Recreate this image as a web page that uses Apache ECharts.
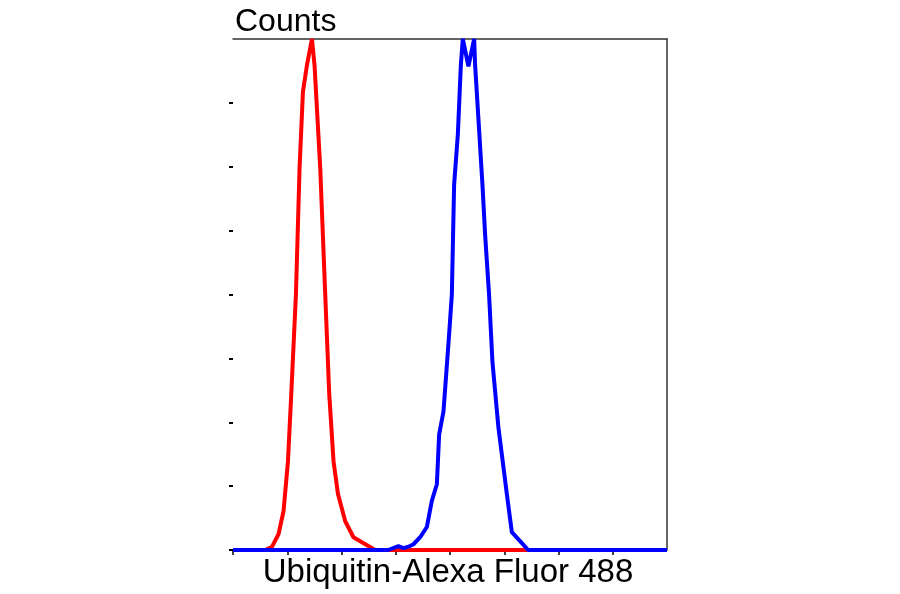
<!DOCTYPE html>
<html>
<head>
<meta charset="utf-8">
<script src="https://cdn.jsdelivr.net/npm/echarts@6/dist/echarts.min.js"></script>
<style>html,body{margin:0;padding:0;background:#fff}#c{width:900px;height:594px}</style>
</head>
<body>
<div id="c"></div>
<script>
// Fluorescence channel (x) and event counts (y)
var redX = [0, 59.5, 71.8, 84, 93.2, 101.3, 107.4, 116, 122.7, 128.9, 136.3, 145.5, 150.3, 160.8, 170, 177.4, 185.3, 193.4, 206.9, 222, 237.6, 262, 800];
var redY = [0, 0, 5, 25, 61, 139, 244, 400, 598, 717, 759, 800, 759, 598, 400, 244, 139, 88, 45, 20, 12, 0, 0];
var blueX = [0, 286, 305, 313.7, 323.5, 332.7, 345, 357.3, 366.5, 375.8, 380, 388, 398.4, 403.4, 407.6, 414.4, 420, 423.6, 434, 444.5, 446.3, 454.2, 459.8, 464.7, 472, 478.2, 489.2, 504.7, 514, 529.2, 544, 800];
var blueY = [0, 0, 6, 3, 5, 9, 20, 36, 77, 103, 181, 217, 338, 400, 572, 650, 759, 800, 757, 800, 759, 650, 572, 494, 400, 295, 192, 88, 28, 14, 0, 0];
var xTicks = [0, 100, 200, 300, 400, 500, 600, 700];
var yTicks = [0, 100, 200, 300, 400, 500, 600, 700];
var xTitle = 'Ubiquitin-Alexa Fluor 488';
var yTitle = 'Counts';

function pairs(xs, ys) { return xs.map(function (x, i) { return [x, ys[i]]; }); }

var chart = echarts.init(document.getElementById('c'), null, { renderer: 'canvas' });
var font = 'Liberation Sans, Arial, sans-serif';
chart.setOption({
  animation: false,
  backgroundColor: '#ffffff',
  grid: { left: 233, right: 233, top: 39, bottom: 43, containLabel: false },
  xAxis: [{
    type: 'value', min: 0, max: 800, interval: 100, position: 'bottom',
    name: xTitle, nameLocation: 'middle', nameGap: 6,
    nameTextStyle: { fontSize: 33, color: '#000', fontFamily: font, padding: [0, 4, 0, 0] },
    axisLine: { show: true, lineStyle: { color: '#000', width: 1 } },
    axisTick: { show: true, inside: false, length: 5, customValues: xTicks, lineStyle: { color: '#000', width: 1.5 } },
    axisLabel: { show: false },
    splitLine: { show: false }
  }, {
    type: 'value', min: 0, max: 800, position: 'top',
    axisLine: { show: true, onZero: false, lineStyle: { color: '#333', width: 1.5 } },
    axisTick: { show: false }, axisLabel: { show: false }, splitLine: { show: false }
  }],
  yAxis: [{
    type: 'value', min: 0, max: 800, interval: 100, position: 'left',
    name: yTitle, nameLocation: 'end', nameGap: 1,
    nameTextStyle: { fontSize: 32, color: '#000', fontFamily: font, align: 'left', verticalAlign: 'bottom', padding: [0, 0, 0, 2] },
    axisLine: { show: false },
    axisTick: { show: true, inside: false, length: 4, customValues: yTicks, lineStyle: { color: '#000', width: 2 } },
    axisLabel: { show: false },
    splitLine: { show: false }
  }, {
    type: 'value', min: 0, max: 800, position: 'right',
    axisLine: { show: true, onZero: false, lineStyle: { color: '#333', width: 1.5 } },
    axisTick: { show: false }, axisLabel: { show: false }, splitLine: { show: false }
  }],
  series: [{
    type: 'line', data: pairs(redX, redY), showSymbol: false, symbol: 'none',
    lineStyle: { color: '#ff0000', width: 4 }, z: 3
  }, {
    type: 'line', data: pairs(blueX, blueY), showSymbol: false, symbol: 'none',
    lineStyle: { color: '#0000ff', width: 4 }, z: 4
  }]
});
</script>
</body>
</html>
